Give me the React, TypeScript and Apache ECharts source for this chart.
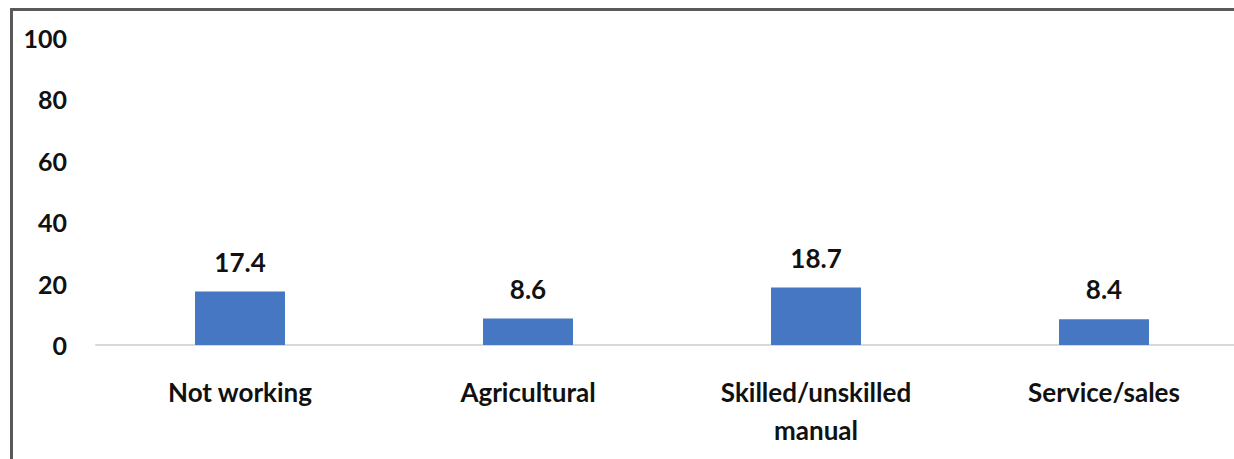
import React, { useEffect, useRef } from "react";
import * as echarts from "echarts";

const categories = ["Not working", "Agricultural", "Skilled/unskilled\nmanual", "Service/sales"];
const values = [17.4, 8.6, 18.7, 8.4];
const yTicks = [0, 20, 40, 60, 80, 100];

export default function App() {
  const ref = useRef<HTMLDivElement>(null);
  useEffect(() => {
    if (!ref.current) return;
    const chart = echarts.init(ref.current, undefined, { renderer: "svg" });
    const font = "Lato, 'Open Sans', sans-serif";
    chart.setOption({
      animation: false,
      backgroundColor: "#ffffff",
      grid: {
        left: 96,
        width: 1152,
        top: 38,
        bottom: 114,
        containLabel: false,
        outerBoundsMode: "none",
      },
      xAxis: {
        type: "category",
        data: categories,
        axisLine: { show: true, lineStyle: { color: "#d9d9d9", width: 2 } },
        axisTick: { show: false },
        axisLabel: {
          color: "#111111",
          fontFamily: font,
          fontWeight: "bold",
          fontSize: 26,
          lineHeight: 38,
          margin: 28,
          interval: 0,
        },
      },
      yAxis: {
        type: "value",
        min: yTicks[0],
        max: yTicks[yTicks.length - 1],
        interval: 20,
        axisLine: { show: false },
        axisTick: { show: false },
        splitLine: { show: false },
        axisLabel: {
          color: "#111111",
          fontFamily: font,
          fontWeight: "bold",
          fontSize: 25,
          margin: 29,
        },
      },
      series: [
        {
          type: "bar",
          data: values,
          barWidth: 90,
          itemStyle: { color: "#4677c2" },
          label: {
            show: true,
            position: "top",
            distance: 17,
            color: "#111111",
            fontFamily: font,
            fontWeight: "bold",
            fontSize: 26,
            formatter: (p: any) => p.value.toFixed(1),
          },
        },
      ],
      graphic: [
        {
          type: "line",
          shape: { x1: 10, y1: 9.5, x2: 1234, y2: 9.5 },
          style: { stroke: "#5a5a5a", lineWidth: 3 },
          z: 100,
        },
        {
          type: "line",
          shape: { x1: 11.5, y1: 8, x2: 11.5, y2: 459 },
          style: { stroke: "#5a5a5a", lineWidth: 3 },
          z: 100,
        },
      ],
    });
    return () => chart.dispose();
  }, []);
  return (
    <div
      ref={ref}
      style={{ position: "absolute", left: 0, top: 0, width: 1234, height: 459 }}
    />
  );
}
